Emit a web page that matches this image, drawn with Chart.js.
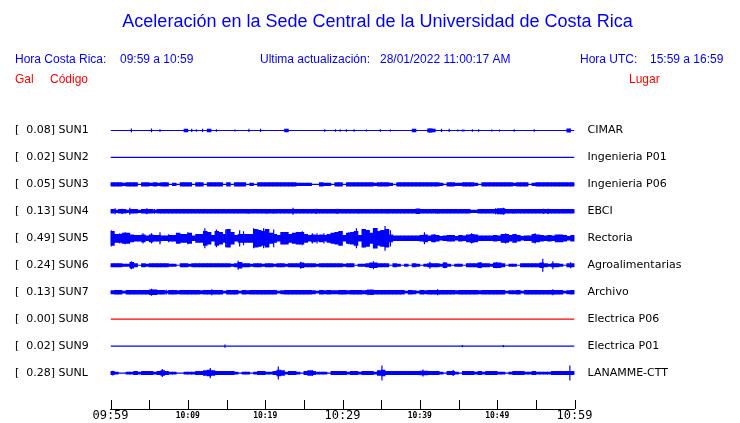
<!DOCTYPE html>
<html>
<head>
<meta charset="utf-8">
<title>Aceleración Sede Central UCR</title>
<script src="https://cdn.jsdelivr.net/npm/chart.js@4.4.1/dist/chart.umd.min.js"></script>
<style>
  html, body { margin: 0; padding: 0; background: #fff; }
  #wrap { width: 740px; height: 423px; }
</style>
</head>
<body>
<div id="wrap"><canvas id="seismoChart" width="740" height="423"></canvas></div>
<script>
// station info
const codes = ['SUN1', 'SUN2', 'SUN3', 'SUN4', 'SUN5', 'SUN6', 'SUN7', 'SUN8', 'SUN9', 'SUNL'];
const peaks = ['0.08', '0.02', '0.05', '0.13', '0.49', '0.24', '0.13', '0.00', '0.02', '0.28'];
const places = ['CIMAR', 'Ingenieria P01', 'Ingenieria P06', 'EBCI', 'Rectoria',
                'Agroalimentarias', 'Archivo', 'Electrica P06', 'Electrica P01', 'LANAMME-CTT'];

// time axis (minutes after 09:59)
const tickMinutes = [0, 10, 20, 30, 40, 50, 60];
const tickLabels = ['09:59', '10:09', '10:19', '10:29', '10:39', '10:49', '10:59'];
const bigTicks = [0, 30, 60];

// envelope of each trace, one value every 30 s, half amplitude in 0.01 Gal
const sun1Body = [0,0,0,0,0,0,0,0,0,0,0,0,0,0,0,0,0,0,0,5, 0,0,0,0,0,5,0,0,0,0,0,0,0,0,0,0,0,0,0,0,
                  0,0,0,0,0,5,0,0,0,0,0,0,0,0,0,0,0,0,0,0, 0,0,0,0,0,0,0,0,0,0,0,0,0,0,0,0,0,0,5,0,
                  0,0,6,5,0,0,0,0,0,0,0,0,0,0,0,0,0,0,0,0, 0,0,0,0,0,0,0,0,0,0,0,0,0,0,0,0,0,0,6,0];
const sun2Body = [];
const sun3Body = [7,7,7,5,7,7,7,0,7,7,5,7,5,7,7,0,5,0,7,7, 7,0,7,7,0,7,7,7,7,0,7,0,7,7,7,0,5,0,7,7,
                  7,7,7,7,7,7,7,7,5,5,5,5,0,0,7,5,5,0,7,7, 0,7,7,7,7,7,7,7,5,7,7,7,5,0,7,7,7,7,7,7,
                  7,7,7,7,7,5,0,7,7,5,5,7,7,7,5,0,7,7,7,7, 7,7,7,7,5,7,7,7,0,5,7,7,7,7,7,7,7,7,7,7];
const sun4Body = [7,5,7,7,5,7,7,5,7,7,7,5,7,7,7,7,7,7,7,7, 7,7,7,7,7,7,7,7,7,7,7,7,7,7,7,7,7,7,7,7,
                  7,7,7,7,7,7,7,7,7,7,7,7,7,7,7,7,7,7,7,7, 7,7,7,7,7,7,7,7,7,7,7,7,7,7,7,7,7,7,7,9,
                  7,7,7,7,7,7,7,7,7,7,7,7,7,5,5,7,7,7,7,7, 10,10,7,7,7,7,7,7,7,7,7,7,7,7,7,7,7,7,7,7];
const sun5Body = [26,15,15,19,19,13,11,11,13,9,13,11,11,9,9,11,11,19,15,15, 19,9,15,15,26,22,11,26,22,15,33,22,11,15,15,15,15,33,30,26,
                  33,19,15,11,22,22,15,19,22,22,15,11,13,11,13,11,15,19,22,26, 11,19,22,26,11,33,30,19,37,26,30,33,13,9,9,9,9,9,9,9,
                  11,13,9,13,11,7,9,11,11,7,11,9,13,15,13,9,9,9,9,11, 9,15,15,11,15,11,7,9,9,15,13,11,9,11,9,13,13,11,7,11];
const sun6Body = [6,6,6,4,4,11,6,0,6,4,6,6,6,6,6,4,4,0,6,6, 4,6,6,6,6,6,6,6,6,6,6,4,6,11,6,6,4,6,6,4,
                  6,6,4,6,6,4,6,6,6,9,6,6,6,4,6,6,6,6,6,6, 4,6,6,0,4,4,6,9,9,6,6,6,0,6,4,0,4,0,6,4,
                  0,4,6,6,6,4,9,4,0,4,4,0,6,6,6,9,6,6,4,9, 9,6,0,4,4,0,6,6,6,6,6,9,6,4,6,6,4,0,6,6];
const sun7Body = [6,7,7,4,7,7,7,7,7,7,9,9,7,7,4,7,7,6,7,7, 7,7,7,6,7,7,7,7,7,4,7,7,7,4,7,6,7,7,7,7,
                  7,7,7,4,6,7,7,7,7,7,7,7,6,4,7,6,7,6,6,7, 7,6,7,7,7,6,7,9,7,7,7,7,7,7,7,7,4,7,6,4,
                  7,6,7,7,7,7,7,7,7,6,7,7,7,7,7,6,7,7,7,7, 7,7,4,6,6,7,4,7,7,7,7,7,7,7,7,7,7,4,6,7];
const sun8Body = [];
const sun9Body = [];
const sunLBody = [6,4,0,0,4,4,6,4,6,6,6,4,6,9,6,4,4,0,0,4, 4,4,6,6,9,11,9,6,6,6,6,6,4,0,4,4,0,4,6,6,
                  4,4,6,11,9,4,6,6,4,0,6,9,6,4,4,4,0,6,6,6, 6,4,6,6,4,6,6,6,4,9,11,6,6,6,6,6,6,6,6,6,
                  7,7,6,6,6,4,0,6,6,4,0,6,6,6,4,6,4,6,6,6, 4,4,0,4,6,6,6,4,4,6,4,4,4,4,6,6,6,6,6,6];

// single spikes: [minute, half amplitude in 0.01 Gal]
const sun1Spikes = [[2.7,7],[5.3,7],[6.4,5],[10.5,6],[11.1,5],[11.9,6],[13.7,5],[16.1,4],[17.9,6],[19.4,6],
                    [27.7,5],[29.1,5],[29.7,5],[30.5,5],[31.5,5],[33.1,4],[34.9,5],[36.2,4],[41.3,8],[41.6,7],
                    [42.8,6],[43.8,6],[44.9,4],[45.5,4],[45.7,4],[46.8,5],[47.6,5],[49.3,4],[50.3,4],[52.2,5],[54.8,5]];
const sun2Spikes = [];
const sun3Spikes = [];
const sun4Spikes = [[0.6,11],[1.5,10],[2.5,13],[4.7,11],[5.7,9],[17.8,9],[20.2,9],[21.1,8],[23.6,13],[26.6,10],
                    [29.3,10],[32.1,8],[35.8,8],[42.3,9],[49.8,11],[50.8,13],[52.2,8],[56.0,10],[56.6,10]];
const sun5Spikes = [[0.1,30],[1.2,19],[1.9,22],[4.2,19],[5.3,19],[6.4,22],[7.5,15],[10.0,22],[12.2,37],[13.7,33],
                    [14.9,33],[16.7,30],[17.2,26],[18.5,37],[19.1,33],[19.8,37],[21.1,33],[24.8,26],[26.1,19],[26.7,19],
                    [27.6,19],[29.7,26],[30.8,22],[31.8,37],[32.7,33],[34.0,37],[34.9,30],[35.5,46],[36.2,30],[40.6,22],
                    [41.9,15],[46.7,19],[51.1,19],[52.3,15],[54.9,19]];
const sun6Spikes = [[2.7,15],[16.5,17],[24.6,13],[34.0,15],[41.3,13],[43.2,11],[47.8,11],[49.9,11],[55.9,24],[57.2,15],[59.5,11]];
const sun7Spikes = [[5.3,13],[7.2,9],[13.1,11],[33.3,11],[42.3,11],[57.2,11]];
const sun8Spikes = [];
const sun9Spikes = [[14.8,6],[45.5,4],[50.8,4]];
const sunLSpikes = [[0.3,9],[6.7,15],[12.9,19],[21.7,24],[26.1,11],[35.1,28],[40.4,13],[44.3,11],[59.4,28]];

const bodies = [sun1Body, sun2Body, sun3Body, sun4Body, sun5Body, sun6Body, sun7Body, sun8Body, sun9Body, sunLBody];
const spikes = [sun1Spikes, sun2Spikes, sun3Spikes, sun4Spikes, sun5Spikes, sun6Spikes, sun7Spikes, sun8Spikes, sun9Spikes, sunLSpikes];

const BLUE = '#0000ff';
const RED = '#ff0000';
const BIN = 0.5; // minutes per envelope value
const traceColor = (code) => code === 'SUN8' ? RED : BLUE;

// build datasets: baseline + envelope bars + spikes for every station
const datasets = [];
codes.forEach((code, i) => {
    const color = traceColor(code);

    datasets.push({
        type: 'line',
        data: [{ x: 0, y: i }, { x: 60, y: i }],
        borderColor: color,
        borderWidth: 1.2,
        pointRadius: 0,
        order: 3
    });

    const bars = [];
    bodies[i].forEach((a, k) => {
        if (a > 0) bars.push({ x: (k + 0.5) * BIN, y: [i - a / 100, i + a / 100] });
    });
    datasets.push({
        type: 'bar',
        data: bars,
        backgroundColor: color,
        grouped: false,
        barPercentage: 1,
        categoryPercentage: 1,
        order: 2
    });

    const sp = [];
    spikes[i].forEach(([m, a]) => {
        sp.push({ x: m, y: i - a / 100 }, { x: m, y: i + a / 100 }, { x: m, y: null });
    });
    datasets.push({
        type: 'line',
        data: sp,
        borderColor: color,
        borderWidth: 1.2,
        pointRadius: 0,
        spanGaps: false,
        order: 1
    });
});

// header lines under the title
const headerPlugin = {
    id: 'header',
    afterDraw(chart) {
        const c = chart.ctx;
        c.save();
        c.font = '12px "Liberation Sans", Arial, sans-serif';
        c.textBaseline = 'middle';
        c.textAlign = 'left';
        c.fillStyle = BLUE;
        c.fillText('Hora Costa Rica:', 15, 60);
        c.fillText('09:59 a 10:59', 120, 60);
        c.fillText('Ultima actualización:', 260, 60);
        c.fillText('28/01/2022 11:00:17 AM', 380, 60);
        c.fillText('Hora UTC:', 580, 60);
        c.fillText('15:59 a 16:59', 650, 60);
        c.fillStyle = RED;
        c.fillText('Gal', 15, 80);
        c.fillText('Código', 50, 80);
        c.fillText('Lugar', 629, 80);
        c.restore();
    }
};

// small upward tick marks on the time axis
const timeTickPlugin = {
    id: 'timeTicks',
    afterDraw(chart) {
        const xs = chart.scales.x;
        const bottom = chart.chartArea.bottom;
        const c = chart.ctx;
        c.save();
        c.strokeStyle = '#000';
        c.lineWidth = 1;
        c.beginPath();
        xs.ticks.forEach(t => {
            const px = Math.round(xs.getPixelForValue(t.value)) + 0.5;
            c.moveTo(px, bottom - 9);
            c.lineTo(px, bottom);
        });
        c.stroke();
        c.restore();
    }
};

const yRange = { min: -0.5, max: 31 / 3 };

new Chart(document.getElementById('seismoChart').getContext('2d'), {
    type: 'bar',
    data: { datasets },
    plugins: [headerPlugin, timeTickPlugin],
    options: {
        responsive: false,
        animation: false,
        layout: { padding: { left: 15, right: 0, top: 0, bottom: 0 } },
        plugins: {
            legend: { display: false },
            tooltip: { enabled: false },
            title: {
                display: true,
                text: 'Aceleración en la Sede Central de la Universidad de Costa Rica',
                color: BLUE,
                font: { family: '"Liberation Sans", Arial, sans-serif', size: 18, weight: 'normal' },
                padding: { top: 11, bottom: 84.4 }
            }
        },
        scales: {
            x: {
                type: 'linear',
                min: 0,
                max: 60,
                offset: false,
                grid: { display: false, drawTicks: false },
                border: { display: true, color: '#000', width: 1 },
                ticks: {
                    stepSize: 5,
                    autoSkip: false,
                    maxRotation: 0,
                    padding: 0,
                    color: '#000',
                    callback: (value) => {
                        const idx = tickMinutes.indexOf(value);
                        return idx >= 0 ? tickLabels[idx] : '';
                    },
                    font: (ctx) => bigTicks.includes(ctx.tick && ctx.tick.value)
                        ? { family: '"DejaVu Sans Mono", monospace', size: 12 }
                        : { family: '"DejaVu Sans Mono", monospace', size: 8, weight: 'bold', lineHeight: 1.8 }
                },
                afterFit: (s) => { s.height = 14; }
            },
            y: {
                type: 'linear',
                position: 'left',
                reverse: true,
                min: yRange.min,
                max: yRange.max,
                grid: { display: false, drawTicks: false },
                border: { display: false },
                afterBuildTicks: (s) => { s.ticks = codes.map((c, i) => ({ value: i })); },
                ticks: {
                    crossAlign: 'far',
                    padding: 0,
                    color: '#000',
                    font: { family: '"DejaVu Sans", sans-serif', size: 11 },
                    callback: (v, i) => `[  ${peaks[i]}] ${codes[i]}`
                },
                afterFit: (s) => { s.width = 95.5; }
            },
            y2: {
                type: 'linear',
                position: 'right',
                reverse: true,
                min: yRange.min,
                max: yRange.max,
                // tick length only used to push the names away from the plot
                grid: { display: false, drawTicks: true, tickLength: 13 },
                border: { display: false },
                afterBuildTicks: (s) => { s.ticks = places.map((p, i) => ({ value: i })); },
                ticks: {
                    crossAlign: 'near',
                    padding: 0,
                    color: '#000',
                    font: { family: '"DejaVu Sans", sans-serif', size: 11 },
                    callback: (v, i) => places[i]
                },
                afterFit: (s) => { s.width = 165.5; }
            }
        }
    }
});
</script>
</body>
</html>
